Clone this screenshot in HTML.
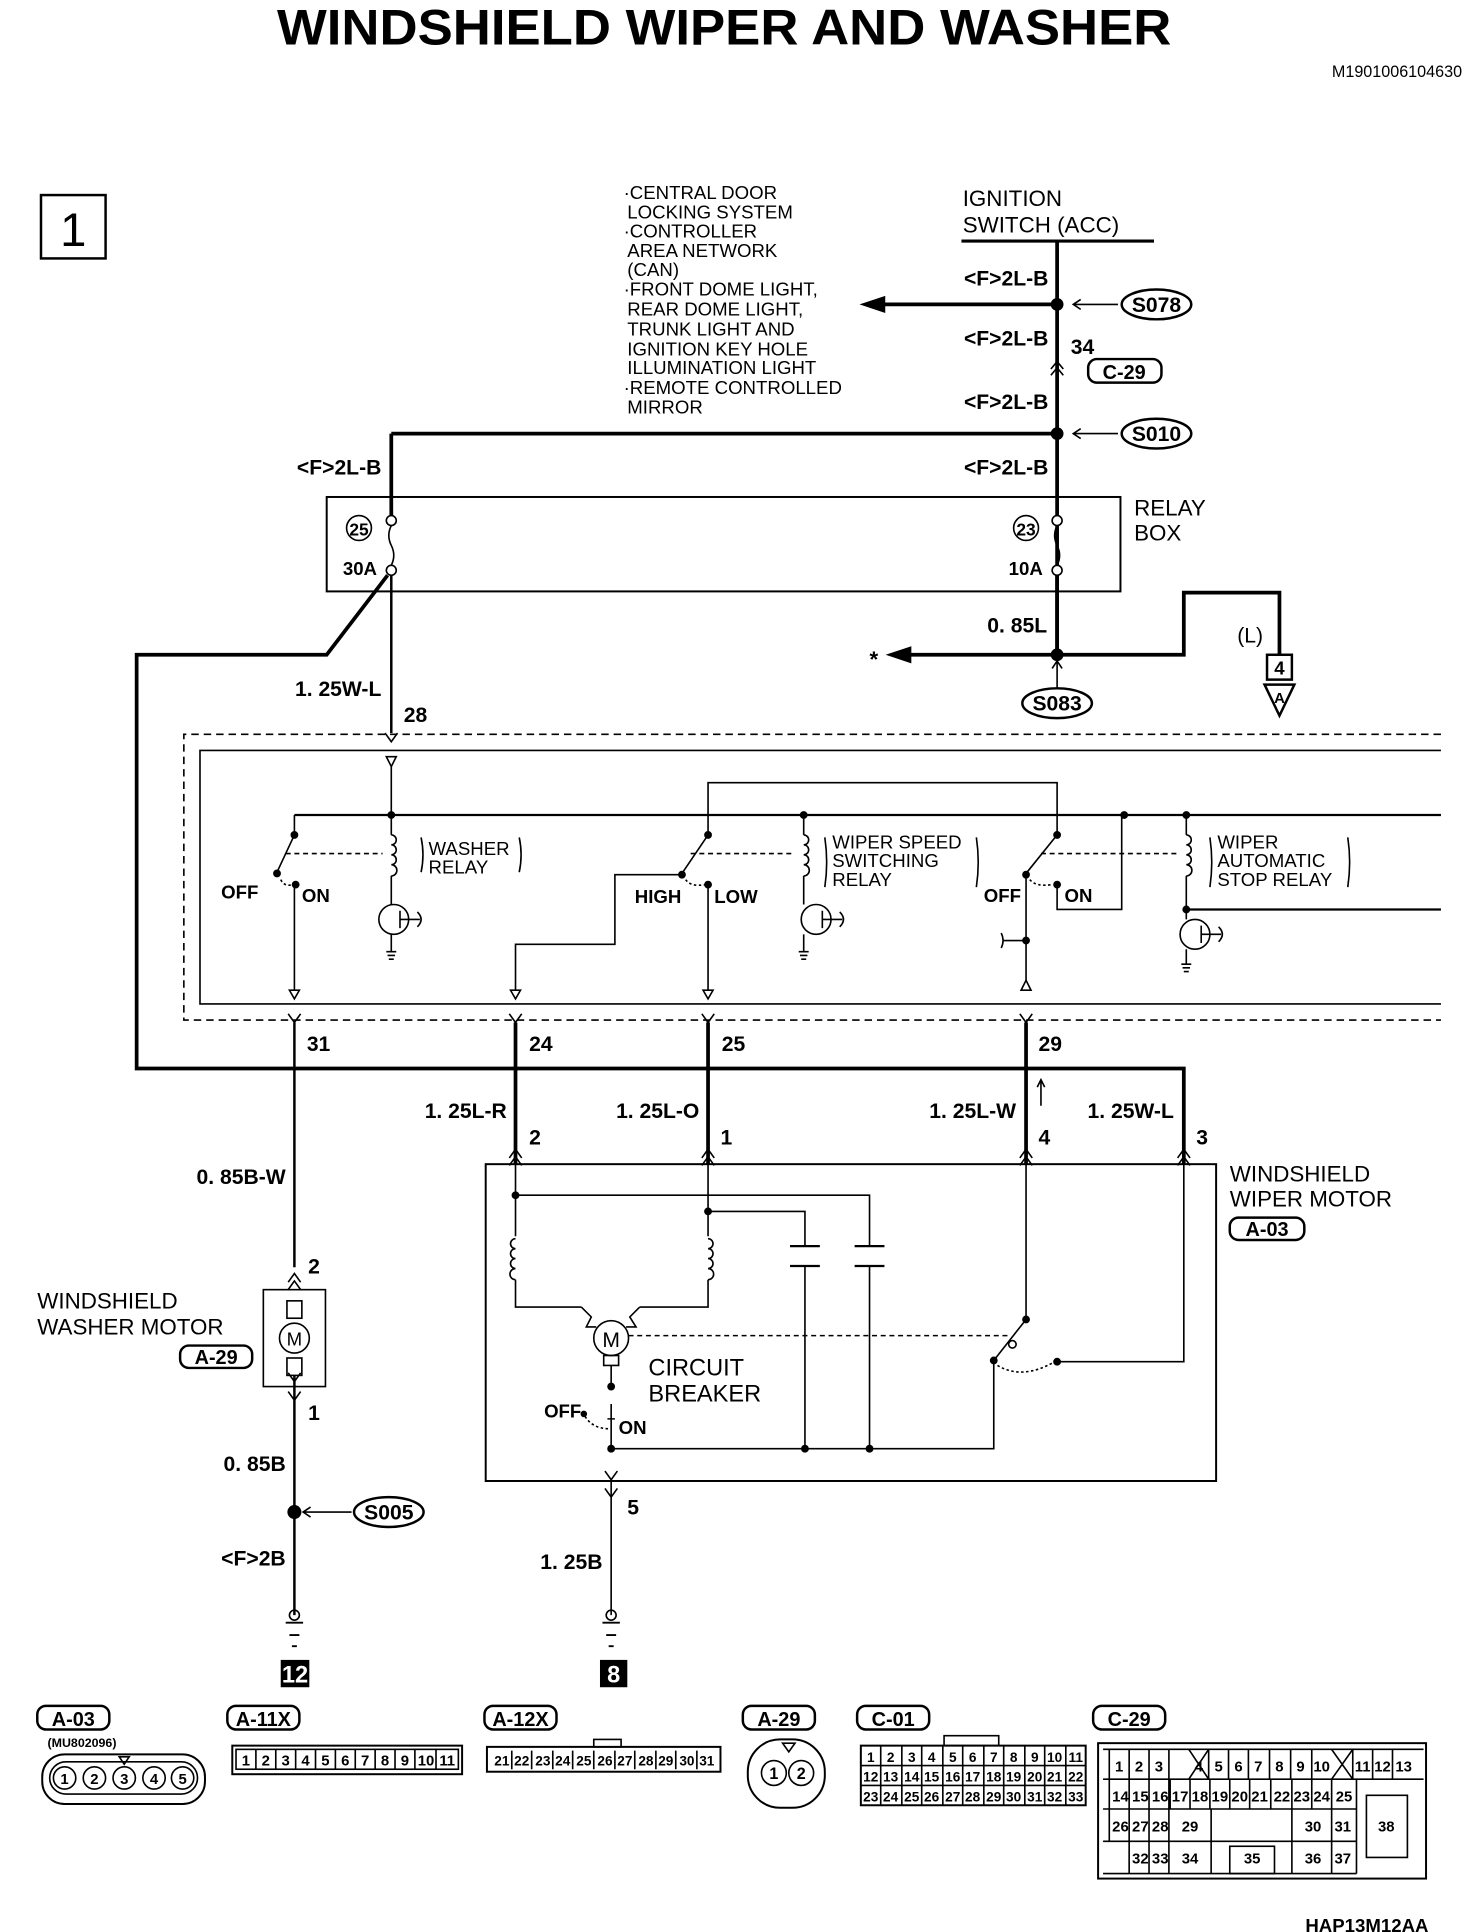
<!DOCTYPE html>
<html><head><meta charset="utf-8"><style>
html,body{margin:0;padding:0;background:#fff}
svg{display:block}
text{font-family:"Liberation Sans Narrow","Liberation Sans",sans-serif;fill:#000}
.b{font-weight:bold}
</style></head><body>
<svg width="1472" height="1932" viewBox="0 0 1185 1555" preserveAspectRatio="none" xmlns="http://www.w3.org/2000/svg">
<g fill="none" stroke="#000" stroke-width="1.3">
<!-- title -->
<text x="583" y="36" text-anchor="middle" class="b" font-size="40" textLength="720" lengthAdjust="spacingAndGlyphs" stroke="none" style="font-family:'Liberation Sans',sans-serif">WINDSHIELD WIPER AND WASHER</text>
<text x="1177" y="62" text-anchor="end" font-size="13" stroke="none">M1901006104630</text>
<rect x="33" y="157" width="52" height="51" stroke-width="2"/>
<text x="59" y="198" text-anchor="middle" font-size="38" stroke="none" style="font-family:'Liberation Sans',sans-serif">1</text>

<g stroke="none" font-size="15">
<text x="502" y="160">·CENTRAL DOOR</text>
<text x="505" y="176">LOCKING SYSTEM</text>
<text x="502" y="191">·CONTROLLER</text>
<text x="505" y="207">AREA NETWORK</text>
<text x="505" y="222">(CAN)</text>
<text x="502" y="238">·FRONT DOME LIGHT,</text>
<text x="505" y="254">REAR DOME LIGHT,</text>
<text x="505" y="270">TRUNK LIGHT AND</text>
<text x="505" y="286">IGNITION KEY HOLE</text>
<text x="505" y="301">ILLUMINATION LIGHT</text>
<text x="502" y="317">·REMOTE CONTROLLED</text>
<text x="505" y="333">MIRROR</text>
<text x="775" y="166" font-size="18">IGNITION</text>
<text x="775" y="187" font-size="18">SWITCH (ACC)</text>
<text x="913" y="415" font-size="18">RELAY</text>
<text x="913" y="435" font-size="18">BOX</text>
</g>
<line x1="774" y1="194" x2="929" y2="194" stroke-width="2.5"/>

<!-- main vertical -->
<path d="M851 194 V527" stroke-width="3"/>
<g stroke="none" font-size="17" class="b" text-anchor="end">
<text x="844" y="230">&lt;F&gt;2L-B</text>
<text x="844" y="278">&lt;F&gt;2L-B</text>
<text x="844" y="329">&lt;F&gt;2L-B</text>
<text x="844" y="382">&lt;F&gt;2L-B</text>
<text x="307" y="382">&lt;F&gt;2L-B</text>
<text x="843" y="509">0. 85L</text>
<text x="307" y="560">1. 25W-L</text>
</g>
<circle cx="851" cy="245" r="4.5" fill="#000"/>
<path d="M851 245 H708" stroke-width="3"/>
<path d="M694 245 L712 239 L712 251 Z" fill="#000"/>
<path d="M900 245 H864 M870 241 L864 245 L870 249"/>
<ellipse cx="931" cy="245" rx="28" ry="12" stroke-width="2"/>
<text x="931" y="251" text-anchor="middle" font-size="17" class="b" stroke="none">S078</text>
<text x="862" y="285" font-size="17" class="b" stroke="none">34</text>
<path d="M846 297 L851 291 L856 297 M846 302 L851 296 L856 302"/>
<rect x="876" y="289" width="59" height="19" rx="7" stroke-width="2"/>
<text x="905" y="305" text-anchor="middle" font-size="16" class="b" stroke="none">C-29</text>
<circle cx="851" cy="349" r="4.5" fill="#000"/>
<path d="M315 349 H851 M315 349 V415" stroke-width="3"/>
<path d="M900 349 H864 M870 345 L864 349 L870 353"/>
<ellipse cx="931" cy="349" rx="28" ry="12" stroke-width="2"/>
<text x="931" y="355" text-anchor="middle" font-size="17" class="b" stroke="none">S010</text>

<!-- relay box -->
<rect x="263" y="400" width="639" height="76" stroke-width="1.6"/>
<circle cx="315" cy="419" r="4" fill="#fff"/>
<circle cx="315" cy="459" r="4" fill="#fff"/>
<path d="M315 423 q-4 8 0 16 q4 8 0 16"/>
<circle cx="851" cy="419" r="4" fill="#fff"/>
<circle cx="851" cy="459" r="4" fill="#fff"/>
<path d="M851 423 q-4 8 0 16 q4 8 0 16"/>
<circle cx="289" cy="425" r="10"/>
<text x="289" y="431" text-anchor="middle" font-size="14" class="b" stroke="none">25</text>
<circle cx="826" cy="425" r="10"/>
<text x="826" y="431" text-anchor="middle" font-size="14" class="b" stroke="none">23</text>
<text x="276" y="463" font-size="15" class="b" stroke="none">30A</text>
<text x="812" y="463" font-size="15" class="b" stroke="none">10A</text>

<path d="M312 463 L263 527 H110 V860 H953 V937" stroke-width="3"/>
<path d="M315 463 V590" stroke-width="2"/>
<text x="325" y="581" font-size="17" class="b" stroke="none">28</text>
<path d="M851 463 V527" stroke-width="3"/>
<circle cx="851" cy="527" r="4.5" fill="#000"/>
<path d="M851 527 H730" stroke-width="3"/>
<path d="M715 527 L733 521 L733 533 Z" fill="#000"/>
<text x="700" y="537" font-size="18" class="b" stroke="none">*</text>
<path d="M851 527 H953 V477 H1030 V527" stroke-width="3"/>
<text x="996" y="517" font-size="17" stroke="none">(L)</text>
<rect x="1020" y="527" width="20" height="20" stroke-width="2"/>
<text x="1030" y="543" text-anchor="middle" font-size="15" class="b" stroke="none">4</text>
<path d="M1018 551 H1042 L1030 576 Z" stroke-width="2"/>
<text x="1030" y="566" text-anchor="middle" font-size="12" class="b" stroke="none">A</text>
<path d="M851 555 V532 M847 538 L851 532 L855 538"/>
<ellipse cx="851" cy="566" rx="28" ry="12" stroke-width="2"/>
<text x="851" y="572" text-anchor="middle" font-size="17" class="b" stroke="none">S083</text>

<!-- ETACS box -->
<path d="M1160 591 H148 V821 H1160" stroke-dasharray="6,4"/>
<path d="M1160 604 H161 V808 H1160"/>
<path d="M310 590 L315 597 L320 590"/>
<path d="M311 609 H319 L315 617 Z"/>
<path d="M315 617 V656"/>
<path d="M237 656 H1160" stroke-width="1.8"/>
<circle cx="315" cy="656" r="2.5" fill="#000"/>
<circle cx="647" cy="656" r="2.5" fill="#000"/>
<circle cx="905" cy="656" r="2.5" fill="#000"/>
<circle cx="955" cy="656" r="2.5" fill="#000"/>

<!-- washer relay -->
<path d="M237 656 V670"/>
<circle cx="237" cy="672" r="2.5" fill="#000"/>
<path d="M237 672 L223 702"/>
<circle cx="223" cy="703" r="2.5" fill="#000"/>
<circle cx="238" cy="712" r="2.5" fill="#000"/>
<path d="M226 708 q3 6 10 4" stroke-dasharray="2,2"/>
<path d="M230 687 H308" stroke-dasharray="4,3"/>
<path d="M237 714 V797"/>
<path d="M233 797 H241 L237 804 Z"/>
<text x="178" y="723" font-size="15" class="b" stroke="none">OFF</text>
<text x="243" y="726" font-size="15" class="b" stroke="none">ON</text>
<path d="M315 656 V672 M315 705 V728 M315 752 V766"/>
<path d="M315 672 a4 4 0 1 1 0 8 a4 4 0 1 1 0 8 a4 4 0 1 1 0 8 a4 4 0 1 1 0 9"/>
<circle cx="317" cy="740" r="12"/>
<path d="M322 733 V747 M322 740 H338 M336 734 q6 6 0 12"/>
<path d="M311 766 H319 M312 769 H318 M313 772 H317"/>
<path d="M339 674 q3 14 0 28 M418 674 q3 14 0 28"/>
<text x="345" y="688" font-size="15" stroke="none">WASHER</text>
<text x="345" y="703" font-size="15" stroke="none">RELAY</text>

<!-- speed switch -->
<path d="M570 672 V630 H851 V672"/>
<circle cx="570" cy="672" r="2.5" fill="#000"/>
<path d="M570 672 L549 703"/>
<circle cx="549" cy="704" r="2.5" fill="#000"/>
<circle cx="570" cy="712" r="2.5" fill="#000"/>
<path d="M552 708 q4 6 16 4" stroke-dasharray="2,2"/>
<path d="M556 687 H640" stroke-dasharray="4,3"/>
<path d="M549 704 H495 V760 H415 V797"/>
<path d="M411 797 H419 L415 804 Z"/>
<path d="M570 714 V797"/>
<path d="M566 797 H574 L570 804 Z"/>
<text x="511" y="727" font-size="15" class="b" stroke="none">HIGH</text>
<text x="575" y="727" font-size="15" class="b" stroke="none">LOW</text>
<path d="M647 656 V672 M647 705 V728 M647 752 V766"/>
<path d="M647 672 a4 4 0 1 1 0 8 a4 4 0 1 1 0 8 a4 4 0 1 1 0 8 a4 4 0 1 1 0 9"/>
<circle cx="657" cy="740" r="12"/>
<path d="M662 733 V747 M662 740 H678 M676 734 q6 6 0 12"/>
<path d="M643 766 H651 M644 769 H650 M645 772 H649"/>
<path d="M664 674 q3 20 0 40 M786 674 q3 20 0 40"/>
<text x="670" y="683" font-size="15" stroke="none">WIPER SPEED</text>
<text x="670" y="698" font-size="15" stroke="none">SWITCHING</text>
<text x="670" y="713" font-size="15" stroke="none">RELAY</text>

<!-- auto stop -->
<circle cx="851" cy="672" r="2.5" fill="#000"/>
<path d="M851 672 L826 703"/>
<circle cx="826" cy="704" r="2.5" fill="#000"/>
<circle cx="851" cy="712" r="2.5" fill="#000"/>
<path d="M829 708 q5 6 18 4" stroke-dasharray="2,2"/>
<path d="M838 687 H948" stroke-dasharray="4,3"/>
<path d="M851 714 V732 H903 V656"/>
<path d="M826 704 V790"/>
<circle cx="826" cy="757" r="2.5" fill="#000"/>
<path d="M826 757 H808 M806 751 q3 6 0 12"/>
<path d="M822 797 H830 L826 789 Z"/>
<text x="792" y="726" font-size="15" class="b" stroke="none">OFF</text>
<text x="857" y="726" font-size="15" class="b" stroke="none">ON</text>
<path d="M955 656 V672 M955 705 V740 M955 764 V776"/>
<path d="M955 672 a4 4 0 1 1 0 8 a4 4 0 1 1 0 8 a4 4 0 1 1 0 8 a4 4 0 1 1 0 9"/>
<circle cx="955" cy="732" r="2.5" fill="#000"/>
<path d="M955 732 H1160" stroke-width="1.8"/>
<circle cx="962" cy="752" r="12"/>
<path d="M967 745 V759 M967 752 H983 M981 746 q6 6 0 12"/>
<path d="M951 776 H959 M952 779 H958 M953 782 H957"/>
<path d="M974 674 q3 20 0 40 M1085 674 q3 20 0 40"/>
<text x="980" y="683" font-size="15" stroke="none">WIPER</text>
<text x="980" y="698" font-size="15" stroke="none">AUTOMATIC</text>
<text x="980" y="713" font-size="15" stroke="none">STOP RELAY</text>

<!-- output pins -->
<path d="M232 816 L237 823 L242 816 M410 816 L415 823 L420 816 M565 816 L570 823 L575 816 M821 816 L826 823 L831 816"/>
<path d="M237 823 V1020" stroke-width="2"/>
<path d="M415 823 V937 M570 823 V937 M826 823 V937" stroke-width="3"/>
<g stroke="none" font-size="17" class="b">
<text x="247" y="846">31</text><text x="426" y="846">24</text><text x="581" y="846">25</text><text x="836" y="846">29</text>
<text x="408" y="900" text-anchor="end">1. 25L-R</text>
<text x="563" y="900" text-anchor="end">1. 25L-O</text>
<text x="818" y="900" text-anchor="end">1. 25L-W</text>
<text x="945" y="900" text-anchor="end">1. 25W-L</text>
<text x="426" y="921">2</text><text x="580" y="921">1</text><text x="836" y="921">4</text><text x="963" y="921">3</text>
<text x="230" y="953" text-anchor="end">0. 85B-W</text>
<text x="248" y="1025">2</text>
<text x="248" y="1143">1</text>
<text x="230" y="1184" text-anchor="end">0. 85B</text>
<text x="230" y="1260" text-anchor="end">&lt;F&gt;2B</text>
<text x="485" y="1263" text-anchor="end">1. 25B</text>
<text x="505" y="1219">5</text>
</g>
<path d="M838 890 V870 M835 875 L838 869 L841 875"/>

<!-- wiper motor -->
<rect x="391" y="937" width="588" height="255" stroke-width="1.6"/>
<path d="M410 932 L415 925 L420 932 M410 938 L415 931 L420 938 M565 932 L570 925 L575 932 M565 938 L570 931 L575 938 M821 932 L826 925 L831 932 M821 938 L826 931 L831 938 M948 932 L953 925 L958 932 M948 938 L953 931 L958 938"/>
<text x="990" y="951" font-size="18" stroke="none">WINDSHIELD</text>
<text x="990" y="971" font-size="18" stroke="none">WIPER MOTOR</text>
<rect x="990" y="980" width="60" height="18" rx="7" stroke-width="2"/>
<text x="1020" y="995" text-anchor="middle" font-size="16" class="b" stroke="none">A-03</text>
<path d="M415 937 V995 M415 1030 V1052 H468"/>
<path d="M570 937 V995 M570 1030 V1052 H515"/>
<circle cx="415" cy="962" r="2.5" fill="#000"/>
<circle cx="570" cy="975" r="2.5" fill="#000"/>
<path d="M415 962 H700 V1003 M700 1019 V1166"/>
<path d="M570 975 H648 V1003 M648 1019 V1166"/>
<path d="M636 1003 H660 M636 1019 H660 M688 1003 H712 M688 1019 H712" stroke-width="1.8"/>
<path d="M415 997 a4 4 0 1 0 0 8 a4 4 0 1 0 0 8 a4 4 0 1 0 0 8 a4 4 0 1 0 0 9"/>
<path d="M570 997 a4 4 0 1 1 0 8 a4 4 0 1 1 0 8 a4 4 0 1 1 0 8 a4 4 0 1 1 0 9"/>
<circle cx="492" cy="1077" r="14"/>
<text x="492" y="1084" text-anchor="middle" font-size="17" stroke="none" style="font-family:'Liberation Sans',sans-serif">M</text>
<path d="M468 1052 L476 1060 L472 1068 L480 1068 M515 1052 L507 1060 L512 1068 L504 1068"/>
<rect x="486" y="1091" width="12" height="8"/>
<path d="M492 1099 V1115"/>
<circle cx="492" cy="1116" r="2.5" fill="#000"/>
<circle cx="470" cy="1138" r="2" fill="#000"/>
<path d="M471 1140 q6 10 20 10" stroke-dasharray="2,2"/>
<path d="M492 1130 V1166 M489 1142 H495"/>
<text x="438" y="1141" font-size="15" class="b" stroke="none">OFF</text>
<text x="498" y="1154" font-size="15" class="b" stroke="none">ON</text>
<text x="522" y="1107" font-size="19" stroke="none">CIRCUIT</text>
<text x="522" y="1128" font-size="19" stroke="none">BREAKER</text>
<circle cx="492" cy="1166" r="2.5" fill="#000"/>
<circle cx="648" cy="1166" r="2.5" fill="#000"/>
<circle cx="700" cy="1166" r="2.5" fill="#000"/>
<path d="M492 1166 H800 V1095"/>
<path d="M826 937 V1062"/>
<circle cx="826" cy="1062" r="2.5" fill="#000"/>
<path d="M826 1062 L800 1095"/>
<circle cx="800" cy="1095" r="2.5" fill="#000"/>
<circle cx="815" cy="1082" r="3"/>
<path d="M803 1099 q20 12 46 -3" stroke-dasharray="2,2"/>
<circle cx="851" cy="1096" r="2.5" fill="#000"/>
<path d="M851 1096 H953 V937"/>
<path d="M506 1075 H812" stroke-dasharray="4,3"/>
<path d="M492 1192 V1300"/>
<path d="M487 1184 L492 1191 L497 1184 M487 1198 L492 1205 L497 1198"/>

<!-- washer motor -->
<path d="M232 1032 L237 1025 L242 1032 M232 1038 L237 1031 L242 1038"/>
<rect x="212" y="1038" width="50" height="78"/>
<rect x="231" y="1047" width="12" height="14"/>
<rect x="231" y="1093" width="12" height="14"/>
<circle cx="237" cy="1077" r="12" fill="#fff"/>
<text x="237" y="1083" text-anchor="middle" font-size="15" stroke="none" style="font-family:'Liberation Sans',sans-serif">M</text>
<path d="M232 1105 L237 1112 L242 1105 M232 1120 L237 1127 L242 1120"/>
<path d="M237 1107 V1300" stroke-width="2"/>
<text x="30" y="1053" font-size="18" stroke="none">WINDSHIELD</text>
<text x="30" y="1074" font-size="18" stroke="none">WASHER MOTOR</text>
<rect x="145" y="1083" width="58" height="18" rx="7" stroke-width="2"/>
<text x="174" y="1098" text-anchor="middle" font-size="16" class="b" stroke="none">A-29</text>
<circle cx="237" cy="1217" r="5" fill="#000"/>
<path d="M283 1217 H244 M250 1213 L244 1217 L250 1221"/>
<ellipse cx="313" cy="1217" rx="28" ry="12" stroke-width="2"/>
<text x="313" y="1223" text-anchor="middle" font-size="17" class="b" stroke="none">S005</text>

<!-- grounds -->
<circle cx="237" cy="1300" r="4"/>
<path d="M230 1306 H244 M233 1316 H241 M235 1325 H239" stroke-width="1.5"/>
<circle cx="492" cy="1300" r="4"/>
<path d="M485 1306 H499 M488 1316 H496 M490 1325 H494" stroke-width="1.5"/>
<rect x="226" y="1336" width="23" height="22" fill="#000" stroke="none"/>
<text x="237.5" y="1354" text-anchor="middle" font-size="19" class="b" fill="#fff" stroke="none" style="fill:#fff">12</text>
<rect x="483" y="1336" width="22" height="22" fill="#000" stroke="none"/>
<text x="494" y="1354" text-anchor="middle" font-size="19" class="b" stroke="none" style="fill:#fff">8</text>

<!-- connector labels -->
<g stroke-width="2">
<rect x="30" y="1373" width="58" height="19" rx="7"/>
<rect x="183" y="1373" width="58" height="19" rx="7"/>
<rect x="390" y="1373" width="58" height="19" rx="7"/>
<rect x="598" y="1373" width="58" height="19" rx="7"/>
<rect x="690" y="1373" width="58" height="19" rx="7"/>
<rect x="880" y="1373" width="58" height="19" rx="7"/>
</g>
<g stroke="none" font-size="16" class="b" text-anchor="middle">
<text x="59" y="1389">A-03</text><text x="212" y="1389">A-11X</text><text x="419" y="1389">A-12X</text>
<text x="627" y="1389">A-29</text><text x="719" y="1389">C-01</text><text x="909" y="1389">C-29</text>
<text x="66" y="1406" font-size="10">(MU802096)</text>
</g>
<!-- A-03 -->
<rect x="34" y="1412" width="131" height="40" rx="18" stroke-width="1.6"/>
<rect x="40" y="1418" width="119" height="26" rx="13"/>
<g font-size="12" class="b">
<circle cx="52" cy="1431" r="9"/><circle cx="76" cy="1431" r="9"/><circle cx="100" cy="1431" r="9"/><circle cx="124" cy="1431" r="9"/><circle cx="147" cy="1431" r="9"/>
<text x="52" y="1436" text-anchor="middle" stroke="none">1</text><text x="76" y="1436" text-anchor="middle" stroke="none">2</text><text x="100" y="1436" text-anchor="middle" stroke="none">3</text><text x="124" y="1436" text-anchor="middle" stroke="none">4</text><text x="147" y="1436" text-anchor="middle" stroke="none">5</text>
</g>
<path d="M96 1414 H104 L100 1420 Z"/>
<!-- A-11X -->
<rect x="187" y="1405" width="185" height="23" stroke-width="1.6"/>
<rect x="190" y="1408" width="179" height="16"/>
<g font-size="12" class="b" stroke="none" text-anchor="middle">
<text x="198" y="1421">1</text><text x="214" y="1421">2</text><text x="230" y="1421">3</text><text x="246" y="1421">4</text><text x="262" y="1421">5</text><text x="278" y="1421">6</text><text x="294" y="1421">7</text><text x="310" y="1421">8</text><text x="326" y="1421">9</text><text x="343" y="1421">10</text><text x="360" y="1421">11</text>
</g>
<path d="M206 1408 V1424 M222 1408 V1424 M238 1408 V1424 M254 1408 V1424 M270 1408 V1424 M286 1408 V1424 M302 1408 V1424 M318 1408 V1424 M334 1408 V1424 M351 1408 V1424"/>
<!-- A-12X -->
<rect x="392" y="1406" width="188" height="20" stroke-width="1.6"/>
<rect x="478" y="1400" width="22" height="6"/>
<g font-size="11" class="b" stroke="none" text-anchor="middle">
<text x="404" y="1421">21</text><text x="420" y="1421">22</text><text x="437" y="1421">23</text><text x="453" y="1421">24</text><text x="470" y="1421">25</text><text x="487" y="1421">26</text><text x="503" y="1421">27</text><text x="520" y="1421">28</text><text x="536" y="1421">29</text><text x="553" y="1421">30</text><text x="569" y="1421">31</text>
</g>
<path d="M412 1409 V1424 M428 1409 V1424 M445 1409 V1424 M461 1409 V1424 M478 1409 V1424 M495 1409 V1424 M511 1409 V1424 M528 1409 V1424 M544 1409 V1424 M561 1409 V1424"/>
<!-- A-29 -->
<rect x="602" y="1400" width="62" height="55" rx="26" stroke-width="1.6"/>
<circle cx="623" cy="1427" r="10"/><circle cx="645" cy="1427" r="10"/>
<text x="623" y="1432" text-anchor="middle" font-size="13" class="b" stroke="none">1</text>
<text x="645" y="1432" text-anchor="middle" font-size="13" class="b" stroke="none">2</text>
<path d="M630 1403 H640 L635 1410 Z"/>
<!-- C-01 -->
<rect x="693" y="1405" width="181" height="48" stroke-width="1.6"/>
<rect x="760" y="1397" width="44" height="8"/>
<path d="M693 1421 H874 M693 1437 H874"/>
<g stroke="none" font-size="11" class="b" text-anchor="middle">
<text x="701" y="1418">1</text><text x="717" y="1418">2</text><text x="734" y="1418">3</text><text x="750" y="1418">4</text><text x="767" y="1418">5</text><text x="783" y="1418">6</text><text x="800" y="1418">7</text><text x="816" y="1418">8</text><text x="833" y="1418">9</text><text x="849" y="1418">10</text><text x="866" y="1418">11</text>
<text x="701" y="1434">12</text><text x="717" y="1434">13</text><text x="734" y="1434">14</text><text x="750" y="1434">15</text><text x="767" y="1434">16</text><text x="783" y="1434">17</text><text x="800" y="1434">18</text><text x="816" y="1434">19</text><text x="833" y="1434">20</text><text x="849" y="1434">21</text><text x="866" y="1434">22</text>
<text x="701" y="1450">23</text><text x="717" y="1450">24</text><text x="734" y="1450">25</text><text x="750" y="1450">26</text><text x="767" y="1450">27</text><text x="783" y="1450">28</text><text x="800" y="1450">29</text><text x="816" y="1450">30</text><text x="833" y="1450">31</text><text x="849" y="1450">32</text><text x="866" y="1450">33</text>
</g>
<path d="M709 1405 V1453 M726 1405 V1453 M742 1405 V1453 M759 1405 V1453 M775 1405 V1453 M792 1405 V1453 M808 1405 V1453 M825 1405 V1453 M841 1405 V1453 M858 1405 V1453"/>
<!-- C-29 -->
<rect x="884" y="1403" width="264" height="109" stroke-width="1.6"/>
<path d="M888 1408 H1146 M888 1432 H1146 M888 1456 H1092 M888 1482 H1092 M888 1508 H1092"/>
<g stroke="none" font-size="12" class="b" text-anchor="middle">
<text x="901" y="1426">1</text><text x="917" y="1426">2</text><text x="933" y="1426">3</text><text x="965" y="1426">4</text><text x="981" y="1426">5</text><text x="997" y="1426">6</text><text x="1013" y="1426">7</text><text x="1030" y="1426">8</text><text x="1047" y="1426">9</text><text x="1064" y="1426">10</text><text x="1097" y="1426">11</text><text x="1113" y="1426">12</text><text x="1130" y="1426">13</text>
<text x="902" y="1450">14</text><text x="918" y="1450">15</text><text x="934" y="1450">16</text><text x="950" y="1450">17</text><text x="966" y="1450">18</text><text x="982" y="1450">19</text><text x="998" y="1450">20</text><text x="1014" y="1450">21</text><text x="1032" y="1450">22</text><text x="1048" y="1450">23</text><text x="1064" y="1450">24</text><text x="1082" y="1450">25</text>
<text x="902" y="1474">26</text><text x="918" y="1474">27</text><text x="934" y="1474">28</text><text x="958" y="1474">29</text><text x="1057" y="1474">30</text><text x="1081" y="1474">31</text><text x="1116" y="1474">38</text>
<text x="918" y="1500">32</text><text x="934" y="1500">33</text><text x="958" y="1500">34</text><text x="1008" y="1500">35</text><text x="1057" y="1500">36</text><text x="1081" y="1500">37</text>
</g>
<path d="M893 1408 V1482 M909 1408 V1508 M925 1408 V1508 M941 1408 V1508 M957 1408 L973 1432 M973 1408 L957 1432 M973 1408 V1432 M989 1408 V1432 M1005 1408 V1432 M1022 1408 V1432 M1039 1408 V1432 M1056 1408 V1432 M1072 1408 L1089 1432 M1089 1408 L1072 1432 M1089 1408 V1432 M1105 1408 V1432 M1121 1408 V1432 M942 1432 V1456 M958 1432 V1456 M974 1432 V1456 M990 1432 V1456 M1006 1432 V1456 M1023 1432 V1456 M1040 1432 V1456 M1056 1432 V1456 M1072 1432 V1456 M1092 1432 V1508 M975 1456 V1508 M1040 1456 V1508 M1072 1456 V1508"/>
<rect x="990" y="1486" width="36" height="22"/>
<path d="M1100 1445 H1133 V1495 H1100 Z"/>
<text x="1150" y="1555" text-anchor="end" font-size="15" class="b" stroke="none">HAP13M12AA</text>
</g>
</svg>
</body></html>
